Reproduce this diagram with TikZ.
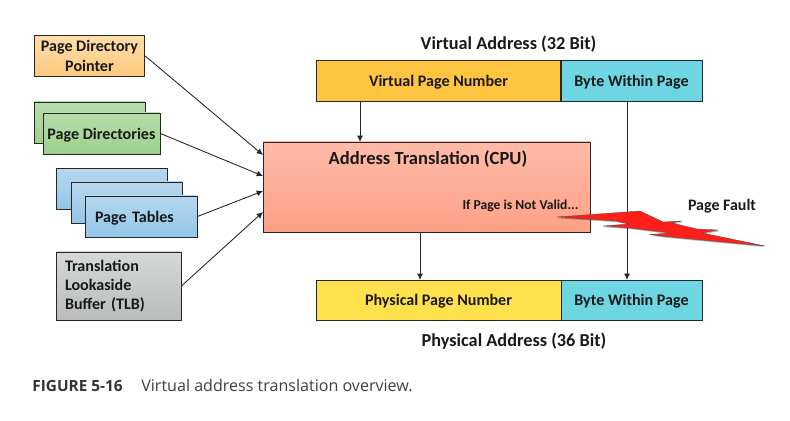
\documentclass[tikz,border=0pt]{standalone}
\usepackage{fontspec}
\setmainfont{Carlito}
\newfontfamily\capfont{Open Sans}
\usetikzlibrary{shadows}
\usetikzlibrary{arrows.meta}
\definecolor{pdptop}{RGB}{255,222,170}
\definecolor{pdpbot}{RGB}{252,200,125}
\definecolor{pdtop}{RGB}{184,220,172}
\definecolor{pdbot}{RGB}{156,208,138}
\definecolor{pttop}{RGB}{182,215,238}
\definecolor{ptbot}{RGB}{146,198,232}
\definecolor{tlbtop}{RGB}{212,216,215}
\definecolor{tlbbot}{RGB}{184,189,188}
\definecolor{addrtop}{RGB}{255,187,168}
\definecolor{addrbot}{RGB}{255,160,135}
\definecolor{vpncol}{RGB}{255,196,64}
\definecolor{ppncol}{RGB}{255,225,77}
\definecolor{bytecol}{RGB}{109,214,226}
\definecolor{boltcol}{RGB}{255,30,24}

\begin{document}
\begin{tikzpicture}[
    x=0.02cm, y=-0.02cm,
    box/.style={draw=black!85, line width=0.5pt, inner sep=0pt, font=\fontsize{9.15}{11}\bfseries\selectfont,
      text=black!90, align=center, drop shadow={shadow xshift=0.35pt, shadow yshift=-0.35pt, opacity=0.3, fill=black}},
    oneline/.style={text depth=0pt},
    size/.style 2 args={minimum width=#1*0.02cm, minimum height=#2*0.02cm},
    title/.style={font=\fontsize{10.4}{12}\bfseries\selectfont, text=black!90},
    conn/.style={draw=black!85, line width=0.5pt, -{Latex[length=3.6pt,width=3.4pt]}},
    ]
  \useasboundingbox (0,0) rectangle (790,421);

  \node[box, size={110.5}{41}, top color=pdptop, bottom color=pdpbot] (pdp) at (89.5,56) {Page Directory\\Pointer};

  \node[box, size={111}{41}, top color=pdtop, bottom color=pdbot] (pdback) at (89.5,122.5) {};
  \node[box, oneline, size={117}{41}, top color=pdtop, bottom color=pdbot] (pd) at (101.5,133.5) {Page Directories};

  \node[box, size={111}{41}, top color=pttop, bottom color=ptbot] (ptback) at (111.5,189) {};
  \node[box, size={111}{41}, top color=pttop, bottom color=ptbot] (ptmid) at (126.5,202.5) {};
  \node[box, oneline, size={112}{41}, top color=pttop, bottom color=ptbot, align=left, text width=92*0.02cm] (pt) at (141,216.5) {Page Tables};

  \node[box, size={125}{68}, top color=tlbtop, bottom color=tlbbot, align=left, text width=107*0.02cm] (tlb) at (118.5,286) {Translation\\Lookaside\\Buffer (TLB)};

  \node[box, size={327}{90}, top color=addrtop, bottom color=addrbot] (addr) at (426.5,187) {};
  \node[title, font=\fontsize{10.55}{12}\bfseries\selectfont] (addrtext) at (428,159) {Address Translation (CPU)};
  \node[font=\fontsize{7.75}{9}\bfseries\selectfont, text=black!90] (valid) at (520.5,206) {If Page is Not Valid...};

  \node[title] (vtitle) at (508.5,44) {Virtual Address (32 Bit)};
  \node[box, oneline, size={244.5}{41}, fill=vpncol] (vpn) at (438.5,80.5) {Virtual Page Number};
  \node[box, oneline, size={141}{41}, fill=bytecol] (vbyte) at (631.5,80.5) {Byte Within Page};

  \node[box, oneline, size={245}{40}, fill=ppncol] (ppn) at (438.5,300) {Physical Page Number};
  \node[box, oneline, size={141}{40}, fill=bytecol] (pbyte) at (631.5,300) {Byte Within Page};
  \node[title] (ptitle) at (514,341) {Physical Address (36 Bit)};

  \coordinate (in1) at (263,155);
  \coordinate (in2) at (263,176);
  \coordinate (in3) at (263,191);
  \coordinate (in4) at (263,212);
  \coordinate (vpnout) at (360,101);
  \coordinate (addrin) at (360,142);
  \coordinate (addrout) at (420,232);
  \coordinate (ppnin) at (420,280);
  \coordinate (vbyteout) at (627,101);
  \coordinate (pbytein) at (627,280);

  \draw[conn] (pdp.east) -- (in1);
  \draw[conn] (pd.east) -- (in2);
  \draw[conn] (pt.east) -- (in3);
  \draw[conn] (tlb.east) -- (in4);
  \draw[conn] (vpnout) -- (addrin);
  \draw[conn] (addrout) -- (ppnin);
  \draw[conn] (vbyteout) -- (pbytein);

  %bolt
  \def\boltpath{(557,217) -- (640,211) -- (663,222) -- (682,221) -- (672,223) -- (697,229) -- (718,230) -- (702,233) -- (765,246) -- (665,236.5) -- (650,234.5) -- (671,233) -- (630,228) -- (603,226) -- (629,224) -- (616,221) -- cycle}
  \fill[black, opacity=0.3, xshift=0.7pt, yshift=-0.7pt] \boltpath;
  \filldraw[fill=boltcol, draw=black!70, line width=0.2pt] \boltpath;

  \node[font=\fontsize{9.1}{10}\bfseries\selectfont, text=black!90] (fault) at (722,206) {Page Fault};

  \node[anchor=base west, font=\capfont\fontsize{8.75}{10}\bfseries\selectfont, text=black!80, inner sep=0pt] (figno) at (32,392) {FIGURE 5-16};
  \node[anchor=base west, font=\capfont\fontsize{9.15}{10}\selectfont, text=black!75, inner sep=0pt] (figcap) at (141,392) {Virtual address translation overview.};
\end{tikzpicture}
\end{document}
